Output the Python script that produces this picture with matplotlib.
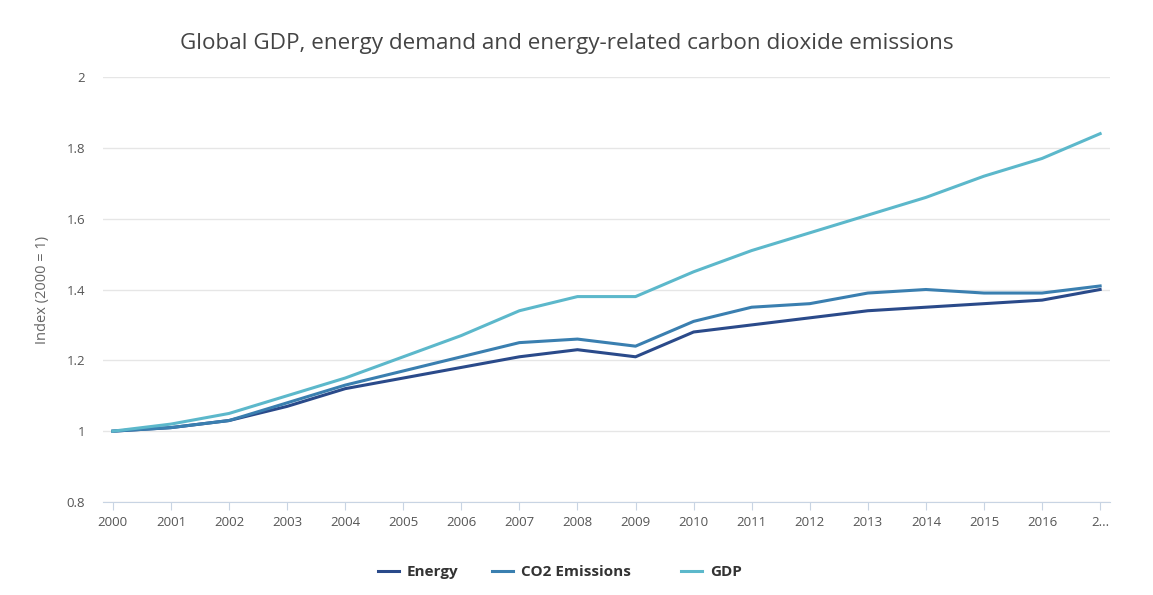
import numpy as np
import matplotlib
matplotlib.use("Agg")
from matplotlib import pyplot as plt

years = list(range(2000, 2018))
year_labels = [str(y) for y in years[:-1]] + ["2..."]
energy = [1.00, 1.01, 1.03, 1.07, 1.12, 1.15, 1.18, 1.21, 1.23, 1.21, 1.28, 1.30, 1.32, 1.34, 1.35, 1.36, 1.37, 1.40]
co2 = [1.00, 1.01, 1.03, 1.08, 1.13, 1.17, 1.21, 1.25, 1.26, 1.24, 1.31, 1.35, 1.36, 1.39, 1.40, 1.39, 1.39, 1.41]
gdp = [1.00, 1.02, 1.05, 1.10, 1.15, 1.21, 1.27, 1.34, 1.38, 1.38, 1.45, 1.51, 1.56, 1.61, 1.66, 1.72, 1.77, 1.84]
y_ticks = [0.8, 1, 1.2, 1.4, 1.6, 1.8, 2]

plt.rcParams['font.family'] = ['Open Sans', 'DejaVu Sans']

fig = plt.figure(figsize=(11.53, 5.95), dpi=100)
ax = fig.add_axes([103/1153, 1-502/595, (1110-103)/1153, (502-77)/595])

h_energy, = ax.plot(years, energy, color='#2a4a8a', lw=2.2, label='Energy', zorder=3)
h_co2, = ax.plot(years, co2, color='#3a7fb0', lw=2.2, label='CO2 Emissions', zorder=3)
h_gdp, = ax.plot(years, gdp, color='#5cb8cb', lw=2.2, label='GDP', zorder=3)

ax.set_xlim(1999.83, 2017.17)
ax.set_ylim(0.8, 2.0)
ax.set_xticks(years)
ax.set_xticklabels(year_labels)
ax.set_yticks(y_ticks)
ax.set_yticklabels([f"{t:g}" for t in y_ticks])
ax.grid(axis='y', color='#e6e6e6', lw=1)
ax.set_axisbelow(True)
for s in ['top', 'right', 'left']:
    ax.spines[s].set_visible(False)
ax.spines['bottom'].set_color('#c8d4e3')
ax.tick_params(axis='x', length=6, color='#c8d4e3', labelsize=9.5, labelcolor='#555555', pad=4)
ax.tick_params(axis='y', length=0, labelsize=9.5, labelcolor='#555555', pad=13)
ax.set_ylabel('Index (2000 = 1)', fontsize=10.5, color='#666666', labelpad=12)

fig.text(567/1153, 1-44/595, 'Global GDP, energy demand and energy-related carbon dioxide emissions',
         ha='center', va='center', fontsize=16.2, color='#444444')

# plotly-style legend: each item at its own spot
for handle, x_px in [(h_energy, 364), (h_co2, 478), (h_gdp, 667)]:
    leg = fig.legend(handles=[handle], loc='center left', bbox_to_anchor=(x_px/1153, 1-572/595),
                     frameon=False, handlelength=1.4, handletextpad=0.5,
                     prop={'weight': 'bold', 'size': 11})
    for t in leg.get_texts():
        t.set_color('#333333')

fig.savefig('out.png', dpi=100)
